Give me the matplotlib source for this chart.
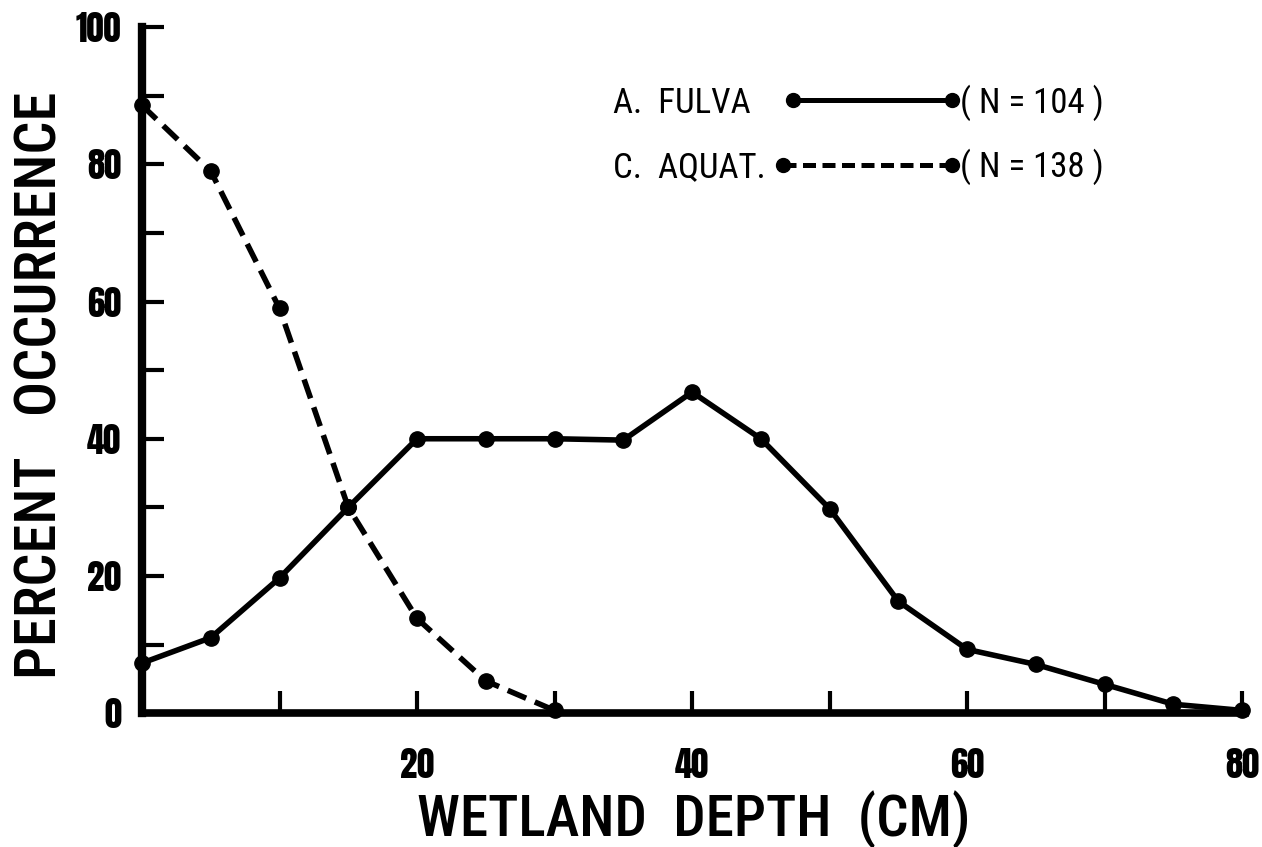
import numpy as np
import matplotlib
matplotlib.use('Agg')
import matplotlib.pyplot as plt

# depth classes (cm) and percent occurrence
depth_fulva = [0, 5, 10, 15, 20, 25, 30, 35, 40, 45, 50, 55, 60, 65, 70, 75, 80]
pct_fulva = [7.3, 11, 19.7, 30, 40, 40, 40, 39.8, 46.8, 40, 29.8, 16.3, 9.3, 7.1, 4.2, 1.3, 0.4]
depth_aquat = [0, 5, 10, 15, 20, 25, 30]
pct_aquat = [88.6, 79, 59, 30, 13.8, 4.7, 0.4]

legend_names = ['A.  FULVA', 'C.  AQUAT.']
legend_n = ['( N = 104 )', '( N = 138 )']

digits = ['Anton', 'Oswald', 'DejaVu Sans']
cond = ['Roboto Condensed', 'DejaVu Sans']
dash = (0, (3.6, 1.7))

fig = plt.figure(figsize=(12.62, 8.47), dpi=100)
ax = fig.add_axes([0.1125, 0.158, 0.874, 0.81])

ax.plot(depth_fulva, pct_fulva, color='black', lw=4, marker='o', ms=11,
        solid_capstyle='round', clip_on=False, zorder=3)
ax.plot(depth_aquat, pct_aquat, color='black', lw=4, marker='o', ms=11,
        linestyle=dash, clip_on=False, zorder=3)

ax.set_xlim(0, 80.2)
ax.set_ylim(0, 100)

for s in ['top', 'right']:
    ax.spines[s].set_visible(False)
ax.spines['left'].set_linewidth(6)
ax.spines['bottom'].set_linewidth(5.5)

ax.set_xticks(np.arange(10, 81, 10))
ax.set_xticklabels(['' if v % 20 else str(v) for v in range(10, 81, 10)])
ax.set_yticks(np.arange(0, 101, 10))
ax.set_yticklabels([str(v) if v % 20 == 0 else '' for v in range(0, 101, 10)])
ax.tick_params(axis='both', direction='in', length=16, width=3, color='black')
ax.tick_params(axis='x', pad=25)
ax.tick_params(axis='y', pad=15)
for lab in ax.get_xticklabels() + ax.get_yticklabels():
    lab.set_fontfamily(digits)
    lab.set_fontsize(25)

ax.set_xlabel('WETLAND  DEPTH  (CM)', fontfamily=cond, fontsize=41, fontweight='medium')
ax.set_ylabel('PERCENT   OCCURRENCE', fontfamily=cond, fontsize=42, fontweight='medium')
ax.xaxis.set_label_coords(0.5, -0.112)
ax.yaxis.set_label_coords(-0.067, 0.478)

# legend drawn by hand: name, sample line, sample size
rows_y = [0.894, 0.799]
text_y = [0.875, 0.781]
line_x0 = [0.590, 0.581]
styles = ['-', (0, (2.6, 1.3))]
for i in range(2):
    ax.text(0.427, text_y[i], legend_names[i], transform=ax.transAxes,
            fontfamily=cond, fontsize=25, va='baseline', ha='left')
    ax.plot([line_x0[i], 0.734], [rows_y[i], rows_y[i]], transform=ax.transAxes,
            color='black', lw=3.6, linestyle=styles[i], marker='o', ms=10,
            clip_on=False)
    ax.text(0.742, text_y[i], legend_n[i], transform=ax.transAxes,
            fontfamily=cond, fontsize=25, va='baseline', ha='left')

fig.savefig('out.png', dpi=100)
